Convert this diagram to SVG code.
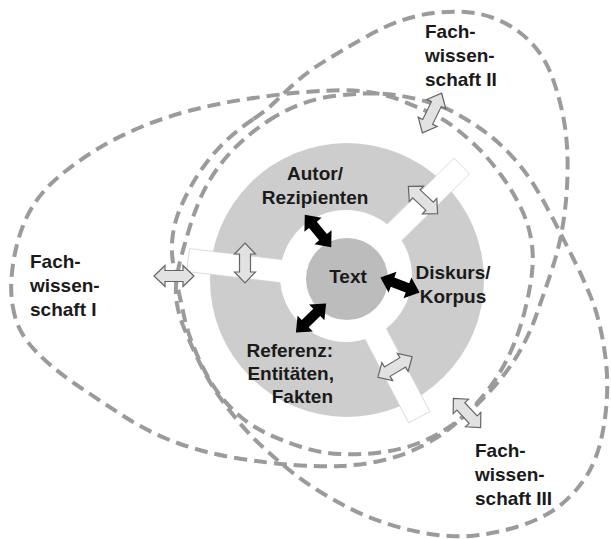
<svg xmlns="http://www.w3.org/2000/svg" xmlns:xlink="http://www.w3.org/1999/xlink" width="611" height="539" viewBox="0 0 611 539">
<style>
.dash{fill:none;stroke:#9b9b9b;stroke-width:4;stroke-dasharray:13 7}
.lbl{font-family:"Liberation Sans",Arial,sans-serif;font-weight:bold;font-size:19px;fill:#1a1a1a}
.ga{fill:#e2e2e2;stroke:#666;stroke-width:1.2}
.ba{fill:#000}
.spoke{fill:#fff;stroke:#d4d4d4;stroke-width:0.8}
</style>
<defs>
<polygon id="garrow" class="ga" points="-20,0 -9,-10.5 -9,-5.5 9,-5.5 9,-10.5 20,0 9,10.5 9,5.5 -9,5.5 -9,10.5"/>
<polygon id="barrow" class="ba" points="-21,0 -8,-11 -8,-5 8,-5 8,-11 21,0 8,11 8,5 -8,5 -8,11"/>
</defs>
<rect width="611" height="539" fill="#fff"/>
<g id="fw1">
<path class="dash" d="M15,316.5 Q10,298 11.5,278 Q13,258 18.5,239 Q24,220 33.5,205 Q43,190 59,176.5 Q75,163 95,150.5 Q115,138 140,127.5 Q165,117 192.5,110 Q220,103 250,98.5 Q280,94 312.5,91.5 Q345,89 365,91.5 Q385,94 400,100 Q415,106 428.5,112 Q442,118 454.5,127.5 Q467,137 478.5,148.5 Q490,160 501,175 Q512,190 520,206 Q528,222 531,238.5 Q534,255 532,272.5 Q530,290 525,310 Q520,330 512.5,347.5 Q505,365 496,378.5 Q487,392 476,404 Q465,416 451.5,427 Q438,438 420,447 Q402,456 382,460.5 Q362,465 341,466 Q320,467 293.5,465 Q267,463 236,458 Q205,453 177.5,443 Q150,433 125,417 Q100,401 76,384.5 Q52,368 36,351.5 Q20,335 15,316.5 Z"/>
<text class="lbl" x="30" y="268">Fach-</text>
<text class="lbl" x="30" y="292">wissen-</text>
<text class="lbl" x="30" y="316">schaft I</text>
</g>
<g id="fw2">
<path class="dash" d="M253.5,119 Q267,110 277,100 Q287,90 298.5,80 Q310,70 326.5,60 Q343,50 363,38.5 Q383,27 400,21 Q417,15 433.5,13 Q450,11 465,12 Q480,13 493.5,18 Q507,23 518.5,31.5 Q530,40 538.5,51.5 Q547,63 552,76.5 Q557,90 561,106.5 Q565,123 566.5,140 Q568,157 567.5,175 Q567,193 565,210 Q563,227 559.5,242.5 Q556,258 549.5,277 Q543,296 536.5,314.5 Q530,333 521,349 Q512,365 501,378.5 Q490,392 477.5,404 Q465,416 450,426.5 Q435,437 417.5,443.5 Q400,450 380,452.5 Q360,455 340,454 Q320,453 301.5,447 Q283,441 268,434 Q253,427 241.5,417.5 Q230,408 221,396.5 Q212,385 205,371.5 Q198,358 192.5,344 Q187,330 184,316 Q181,302 178,288.5 Q175,275 173,262.5 Q171,250 172.5,237.5 Q174,225 178,214 Q182,203 189.5,189 Q197,175 207,162 Q217,149 228.5,138.5 Q240,128 253.5,119 Z"/>
<text class="lbl" x="425" y="38">Fach-</text>
<text class="lbl" x="425" y="62">wissen-</text>
<text class="lbl" x="425" y="86">schaft II</text>
</g>
<g id="fw3">
<path class="dash" d="M268,121 Q283,111 300,104.5 Q317,98 333.5,96 Q350,94 365,93.5 Q380,93 395,95 Q410,97 426.5,101.5 Q443,106 458,114.5 Q473,123 486.5,133 Q500,143 513.5,158 Q527,173 537,190 Q547,207 556,224.5 Q565,242 574,260 Q583,278 590,295 Q597,312 601,331 Q605,350 606.5,367.5 Q608,385 606.5,404 Q605,423 601,440 Q597,457 590,470 Q583,483 571.5,495 Q560,507 546.5,514.5 Q533,522 516.5,527 Q500,532 483.5,534.5 Q467,537 450,536 Q433,535 416.5,531.5 Q400,528 383.5,522.5 Q367,517 350,508.5 Q333,500 316.5,489.5 Q300,479 285,466.5 Q270,454 258.5,443 Q247,432 238,421 Q229,410 221,399 Q213,388 206.5,376 Q200,364 194.5,352 Q189,340 184,328 Q179,316 177,304 Q175,292 176.5,280 Q178,268 181.5,255.5 Q185,243 189.5,228 Q194,213 200.5,198 Q207,183 217,169 Q227,155 240,143 Q253,131 268,121 Z"/>
<text class="lbl" x="475" y="457">Fach-</text>
<text class="lbl" x="475" y="481">wissen-</text>
<text class="lbl" x="475" y="505">schaft III</text>
</g>
<g id="ring">
<circle cx="347" cy="280" r="137" fill="#cdcdcd"/>
<rect class="spoke" x="60" y="-11.5" width="100" height="23" transform="translate(347,279) rotate(186.8)"/>
<rect class="spoke" x="60" y="-11" width="101" height="22" transform="translate(347,279) rotate(-44.5)"/>
<rect class="spoke" x="60" y="-12" width="96" height="24" transform="translate(347,279) rotate(62.4)"/>
<circle cx="346" cy="276" r="66" fill="#fff"/>
</g>
<g id="autor">
<text class="lbl" x="315" y="180" text-anchor="middle">Autor/</text>
<text class="lbl" x="315" y="204" text-anchor="middle">Rezipienten</text>
</g>
<g id="diskurs">
<text class="lbl" x="453" y="279" text-anchor="middle">Diskurs/</text>
<text class="lbl" x="453" y="303" text-anchor="middle">Korpus</text>
</g>
<g id="referenz">
<text class="lbl" x="333" y="357" text-anchor="end">Referenz:</text>
<text class="lbl" x="334" y="380" text-anchor="end">Entitäten,</text>
<text class="lbl" x="333" y="403" text-anchor="end">Fakten</text>
</g>
<g id="text">
<circle cx="347" cy="279" r="41" fill="#bcbcbc"/>
<text class="lbl" x="348" y="283" text-anchor="middle">Text</text>
</g>
<g id="connectors">
<use xlink:href="#barrow" transform="translate(318,231) rotate(51)"/>
<use xlink:href="#barrow" transform="translate(400,285) rotate(21)"/>
<use xlink:href="#barrow" transform="translate(311,318) rotate(-44)"/>
<use xlink:href="#garrow" transform="translate(245,263) rotate(90)"/>
<use xlink:href="#garrow" transform="translate(423,200) rotate(43)"/>
<use xlink:href="#garrow" transform="translate(395,367) rotate(-31)"/>
<use xlink:href="#garrow" transform="translate(174,276)"/>
<use xlink:href="#garrow" transform="translate(432,113) rotate(-64) scale(1.1,1)"/>
<use xlink:href="#garrow" transform="translate(467,413) rotate(47)"/>
</g>
</svg>
